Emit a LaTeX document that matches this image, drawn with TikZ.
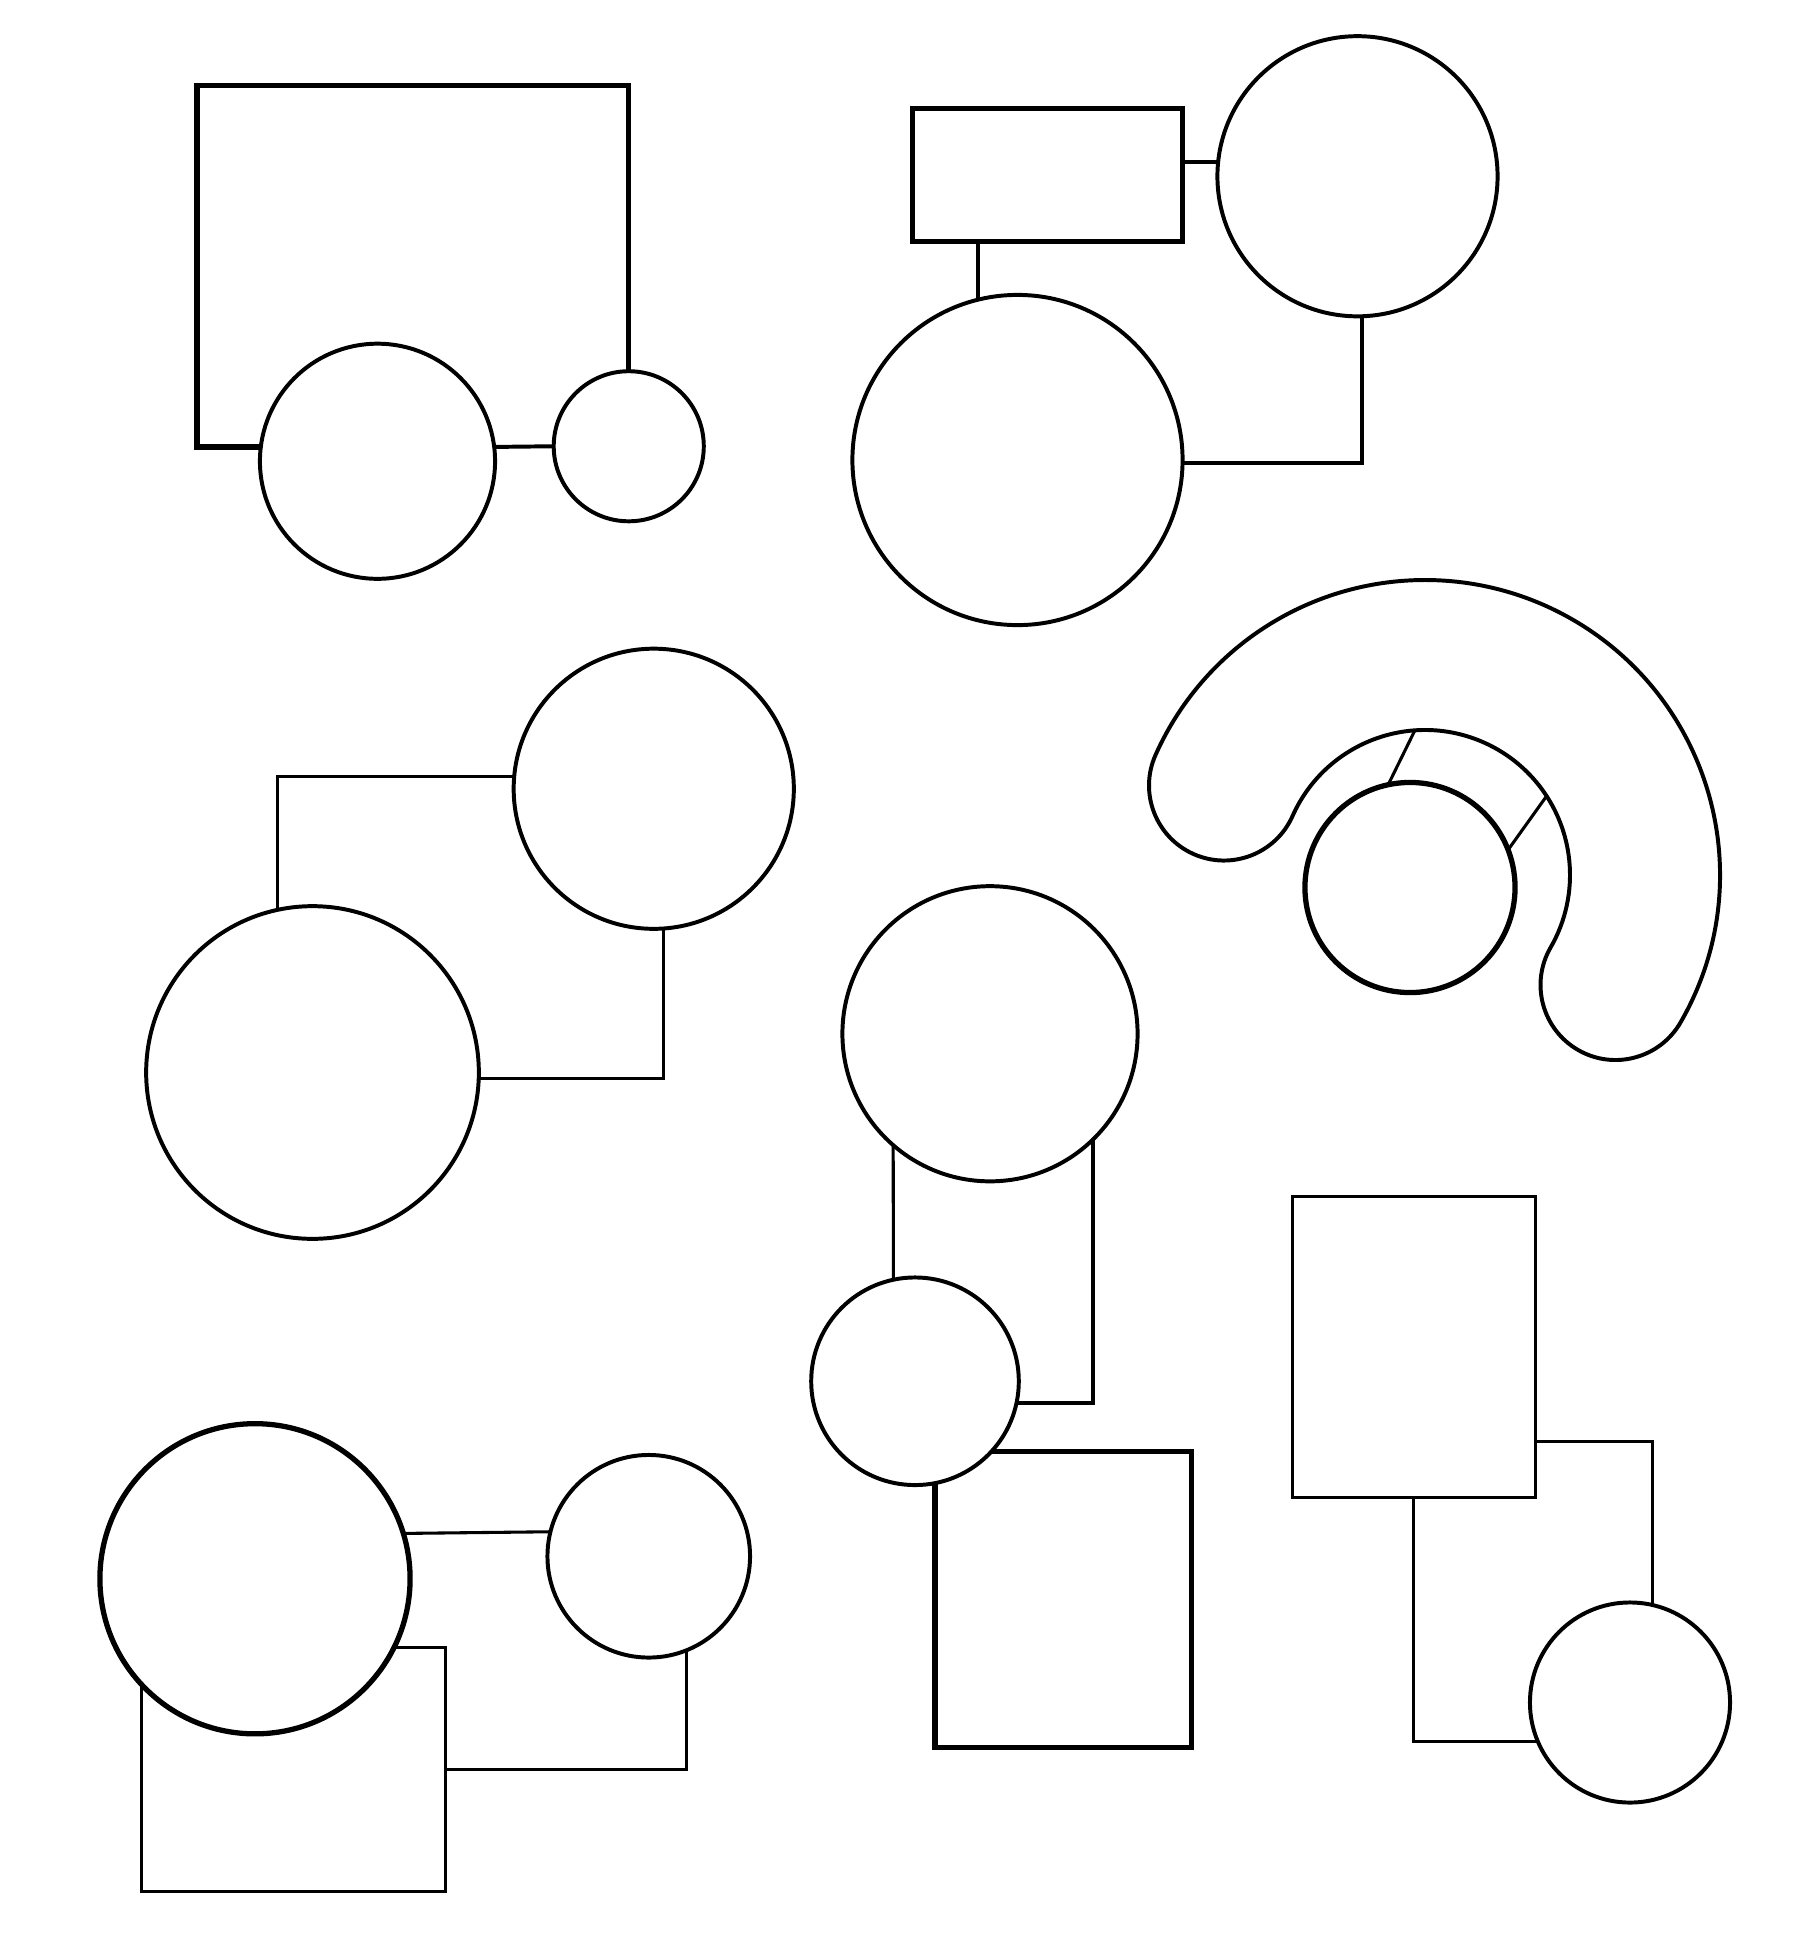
\documentclass[tikz,border=0pt]{standalone}
\usepackage{tikz}

\begin{document}
\begin{tikzpicture}[x=0.01cm,y=0.01cm]
% Styles
\tikzstyle{rond}=[circle,draw,inner sep=0pt,outer sep=0pt,line width=0.9pt]
\tikzstyle{boite}=[rectangle,draw,inner sep=0pt,outer sep=0pt,line width=0.9pt]
\tikzstyle{lien}=[line width=0.9pt]
\tikzstyle{lienfin}=[line width=0.7pt]
\tikzstyle{gras}=[line width=1.2pt]
% Cadre
\useasboundingbox (0,0) rectangle (1440,-1560);
% Groupe 1 (haut gauche)
\node[rond,minimum size=1.88cm] (cA) at (302,-369) {};
\node[rond,minimum size=1.20cm] (cB) at (503,-357) {};
\draw[lien] (cA.7)--(cB.west);
\draw[gras] (cA.173) -| ++(-51,289) -| (cB.north);
% Groupe 2 (haut droite)
\node[boite,gras,minimum width=2.16cm,minimum height=1.06cm] (r1) at (838,-140) {};
\node[rond,minimum size=2.24cm] (cC) at (1086,-141) {};
\node[rond,minimum size=2.64cm] (cD) at (814,-368) {};
\draw[lien] (cC.174)--(cC.174 -| r1.east);
\draw[lien] (cD.104)--(cD.104 |- r1.south);
\draw[lien] (cD.-1) -| (cC.-88);
% Groupe 3 (milieu gauche)
\node[rond,minimum size=2.24cm] (cE) at (523,-631) {};
\node[rond,minimum size=2.66cm] (cF) at (250,-858) {};
\draw[lienfin] (cF.102) |- (cE.175);
\draw[lienfin] (cF.-2) -| (cE.-86);
% Groupe 4 (fer a cheval)
\coordinate (centre) at (1140,-700);
\draw[lien] (centre) ++(-30:236) arc[start angle=-30,end angle=156,radius=236]
  arc[start angle=156,end angle=336,radius=60]
  arc[start angle=156,end angle=-30,radius=116]
  arc[start angle=150,end angle=330,radius=60] -- cycle;
\path (centre) ++(94:116) coordinate (h1);
\path (centre) ++(33:116) coordinate (h2);
\node[rond,gras,minimum size=1.68cm] (cL) at (1128,-710) {};
\draw[lienfin] (cL.102)--(h1);
\draw[lienfin] (cL.21)--(h2);
% Groupe 5 (centre)
\node[boite,gras,minimum width=2.05cm,minimum height=2.37cm] (r2) at (850.5,-1279.5) {};
\node[rond,minimum size=2.36cm] (cG) at (792,-827) {};
\node[rond,fill=white,minimum size=1.66cm] (cH) at (732,-1105) {};
\draw[lienfin] (cG.229)--(cH.102);
\draw[lien] (cG.-46) |- (cH.-12);
% Groupe 6 (bas droite)
\node[boite,lienfin,minimum width=1.94cm,minimum height=2.41cm] (r3) at (1131,-1077.5) {};
\node[rond,minimum size=1.60cm] (cI) at (1304,-1362) {};
\draw[lienfin] (cI.77) |- (r3.-38);
\draw[lienfin] (r3.south) |- (cI.203);
% Groupe 7 (bas gauche)
\node[boite,lienfin,minimum width=2.43cm,minimum height=1.95cm] (r4) at (234.5,-1415.5) {};
\node[rond,gras,fill=white,minimum size=2.48cm] (cJ) at (204,-1263) {};
\node[rond,minimum size=1.62cm] (cK) at (519,-1245) {};
\draw[lienfin] (cJ.17)--(cK.166);
\draw[lienfin] (r4.east) -| (cK.-68);
\end{tikzpicture}
\end{document}
